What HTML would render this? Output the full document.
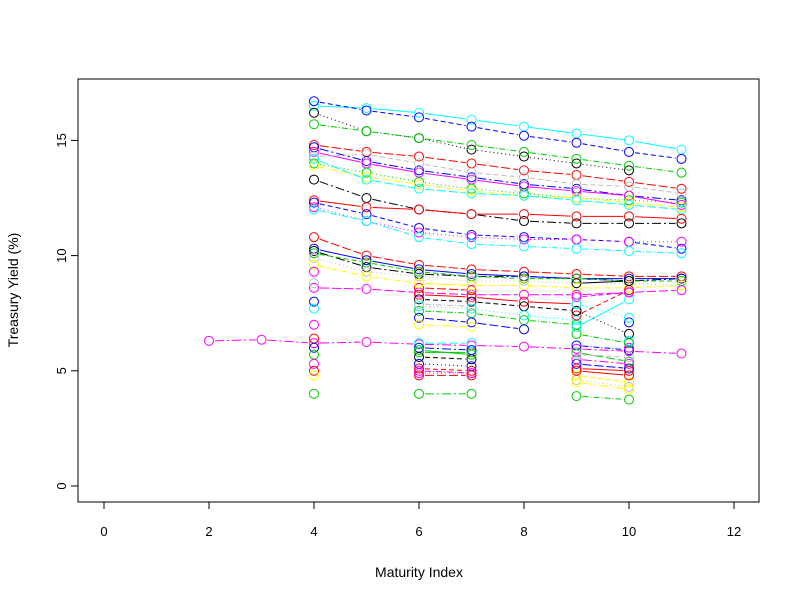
<!DOCTYPE html>
<html><head><meta charset="utf-8"><style>
body{margin:0;background:#fff}
svg{display:block;font-family:"Liberation Sans",Arial,sans-serif}
</style></head><body>
<svg id="chart" width="800" height="600">
<rect x="78" y="79" width="681" height="423" fill="none" stroke="#000" stroke-width="1"/>
<g id="axes"></g><g id="series"></g>
<text x="419" y="577" font-size="14" text-anchor="middle">Maturity Index</text>
<text x="18" y="290" font-size="14" text-anchor="middle" transform="rotate(-90 18 290)">Treasury Yield (%)</text>
</svg>
<script>
const xTicks=[0,2,4,6,8,10,12];
const yTicks=[0,5,10,15];
const maturities=[2,3,4,5,6,7,8,9,10,11];
const N=null;
// values per maturity index 2..11
const seriesValues=[
[N,N,16.5,16.4,16.2,15.9,15.6,15.3,15.0,14.6],
[N,N,16.7,16.3,16.0,15.6,15.2,14.9,14.5,14.2],
[N,N,16.2,15.4,15.1,14.6,14.3,14.0,13.7,N],
[N,N,15.7,15.4,15.1,14.8,14.5,14.2,13.9,13.6],
[N,N,14.8,14.5,14.3,14.0,13.7,13.5,13.2,12.9],
[N,N,14.7,14.1,13.7,13.4,13.1,12.9,12.6,12.4],
[N,N,14.5,14.0,13.6,13.3,13.0,12.8,12.6,12.2],
[N,N,14.3,14.4,14.0,13.6,13.4,13.1,13.0,12.7],
[N,N,14.0,13.6,13.2,12.9,12.7,12.5,12.4,12.3],
[N,N,13.9,13.4,13.1,12.8,12.6,12.5,12.3,12.1],
[N,N,14.2,13.3,12.9,12.7,12.6,12.4,12.2,12.0],
[N,N,13.3,12.5,12.0,11.8,11.5,11.4,11.4,11.4],
[N,N,12.4,12.1,12.0,11.8,11.8,11.7,11.7,11.6],
[N,N,12.3,11.8,11.2,10.9,10.8,10.7,10.6,10.3],
[N,N,12.1,11.5,11.0,10.8,10.7,10.7,10.6,10.6],
[N,N,12.0,11.5,10.8,10.5,10.4,10.3,10.2,10.1],
[N,N,10.8,10.0,9.6,9.4,9.3,9.2,9.1,9.1],
[N,N,10.2,9.5,9.2,9.1,9.1,9.0,8.9,9.0],
[N,N,10.3,9.8,9.4,9.2,9.1,9.0,9.0,9.0],
[N,N,10.1,9.7,9.3,9.1,9.0,9.0,8.9,8.9],
[N,N,9.9,9.3,9.1,8.9,8.9,8.8,8.8,8.7],
[N,N,9.6,9.1,8.8,8.7,8.7,8.6,8.6,8.7],
[N,N,8.6,8.55,8.4,8.3,8.3,8.3,8.4,8.5],
[6.3,6.35,6.2,6.25,6.15,6.1,6.05,5.95,5.85,5.75],
[N,N,N,N,8.3,8.2,8.0,7.9,N,N],
[N,N,N,N,8.1,8.0,7.8,7.6,N,N],
[N,N,N,N,7.8,7.7,7.4,7.2,N,N],
[N,N,N,N,7.6,7.5,7.2,7.0,N,N],
[N,N,N,N,7.3,7.1,6.8,N,N,N],
[N,N,N,N,7.0,6.9,N,N,N,N],
[N,N,N,N,5.8,5.8,N,N,N,N],
[N,N,N,N,5.6,5.5,N,N,N,N],
[N,N,N,N,5.3,5.2,N,N,N,N],
[N,N,N,N,5.0,4.9,N,N,N,N],
[N,N,N,N,4.8,4.8,N,N,N,N],
[N,N,N,N,4.0,4.0,N,N,N,N],
[N,N,N,N,N,N,N,6.9,8.1,N],
[N,N,N,N,N,N,N,7.4,8.5,N],
[N,N,N,N,N,N,N,7.6,6.6,N],
[N,N,N,N,N,N,N,6.1,5.9,N],
[N,N,N,N,N,N,N,5.8,5.4,N],
[N,N,N,N,N,N,N,5.5,5.3,N],
[N,N,N,N,N,N,N,5.1,5.0,N],
[N,N,N,N,N,N,N,4.8,4.5,N],
[N,N,N,N,N,N,N,4.6,4.3,N],
[N,N,N,N,N,N,N,3.9,3.75,N],
[N,N,8.0,N,N,N,N,N,7.1,N],
[N,N,7.7,N,N,N,N,N,6.3,N],
[N,N,7.0,N,N,N,N,N,6.0,N],
[N,N,6.4,N,N,N,N,N,N,N],
[N,N,6.0,N,N,N,N,N,N,N],
[N,N,5.7,N,N,N,N,N,N,N],
[N,N,5.3,N,N,N,N,N,N,N],
[N,N,5.0,N,N,N,N,N,N,N],
[N,N,4.8,N,N,N,N,N,N,N],
[N,N,4.0,N,N,N,N,N,N,N],
[N,N,8.8,N,N,N,N,N,N,N],
[N,N,9.3,N,N,N,N,N,N,N],
[N,N,N,N,6.2,6.2,N,N,N,N],
[N,N,N,N,6.0,5.9,N,N,N,N],
[N,N,N,N,5.9,5.7,N,N,N,N],
[N,N,N,N,5.1,5.0,N,N,N,N],
[N,N,N,N,4.9,4.9,N,N,N,N],
[N,N,N,N,7.9,7.8,N,N,N,N],
[N,N,N,N,8.6,8.5,N,N,N,N],
[N,N,N,N,8.8,8.7,N,N,N,N],
[N,N,N,N,N,N,N,8.8,8.9,N],
[N,N,N,N,N,N,N,8.2,8.4,N],
[N,N,N,N,N,N,N,7.9,7.3,N],
[N,N,N,N,N,N,N,6.6,6.2,N],
[N,N,N,N,N,N,N,5.3,5.1,N],
[N,N,N,N,N,N,N,4.5,4.2,N],
[N,N,N,N,N,N,N,5.0,4.8,N],
[N,N,N,N,N,N,N,5.7,5.6,N]
];
const seriesColors=["cyan","blue","black","#00cd00","red","blue","magenta","#bebebe","#00cd00","yellow","cyan","black","red","blue","magenta","cyan","red","black","blue","#00cd00","#bebebe","yellow","magenta","magenta","red","black","cyan","#00cd00","blue","yellow","#00cd00","black","blue","magenta","red","#00cd00","cyan","red","black","blue","#00cd00","magenta","red","yellow","#bebebe","#00cd00","blue","cyan","magenta","red","blue","#00cd00","magenta","red","yellow","#00cd00","#bebebe","magenta","cyan","blue","#00cd00","red","magenta","#bebebe","red","yellow","black","magenta","cyan","#00cd00","blue","yellow","red","#bebebe"];
const dashes=["", "5,3", "1,3", "6,2,1,2", "9,3", "9,3,2,3"];
const X=v=>104+v*52.5, Y=v=>486-v*23.04;
const ns="http://www.w3.org/2000/svg";
const ax=document.getElementById('axes'), sg=document.getElementById('series');
function mk(t,a,p){const e=document.createElementNS(ns,t);for(const k in a)e.setAttribute(k,a[k]);p.appendChild(e);return e;}
let l=mk('line',{x1:X(0),x2:X(12),y1:502,y2:502,stroke:'#000'},ax);


xTicks.forEach(t=>{mk('line',{x1:X(t),x2:X(t),y1:502,y2:509,stroke:'#000'},ax);
 const tx=mk('text',{x:X(t),y:536,'font-size':13,'text-anchor':'middle'},ax);tx.textContent=t;
 
 });
l=mk('line',{x1:78,x2:78,y1:Y(0),y2:Y(15),stroke:'#000'},ax);


yTicks.forEach(t=>{mk('line',{x1:71,x2:78,y1:Y(t),y2:Y(t),stroke:'#000'},ax);
 const tx=mk('text',{x:66,y:Y(t),'font-size':13,'text-anchor':'middle',transform:`rotate(-90 66 ${Y(t)})`},ax);tx.textContent=t;
 
 });
seriesValues.forEach((vals,i)=>{
 const g=mk('g',{},sg);
 
 
 const c=seriesColors[i%seriesColors.length], d=dashes[i%dashes.length];
 for(let j=0;j<vals.length-1;j++){
  if(vals[j]==null||vals[j+1]==null)continue;
  const a=X(maturities[j]),b=X(maturities[j+1]);
  const dx=b-a,dy=Y(vals[j+1])-Y(vals[j]),L=Math.hypot(dx,dy),s=6/L;
  mk('line',{x1:a+dx*s,y1:Y(vals[j])+dy*s,x2:b-dx*s,y2:Y(vals[j+1])-dy*s,stroke:c,'stroke-dasharray':d},g);
 }
 vals.forEach((v,j)=>{if(v==null)return;
  const p=mk('circle',{cx:X(maturities[j]),cy:Y(v),r:4.5,fill:'none',stroke:c},g);
  
  });
});
</script>
</body></html>
